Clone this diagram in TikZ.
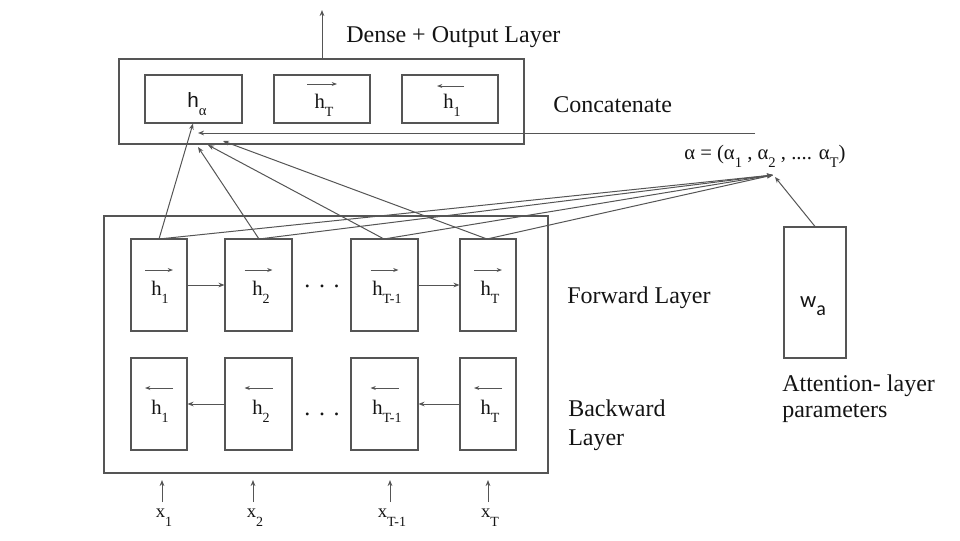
\documentclass[tikz,border=0pt]{standalone}
\usepackage{fontspec}
\setmainfont{Liberation Serif}
\newfontfamily\arialf{Liberation Sans}
\newfontfamily\calib{Carlito}
\usetikzlibrary{arrows.meta,fit}
\newcommand{\sbx}[1]{\raisebox{-6.5pt}{\fontsize{11}{12}\selectfont #1}}
\newcommand{\sbs}[1]{\raisebox{-6.5pt}{\fontsize{10.5}{12}\selectfont #1}}
\newcommand{\sba}[1]{\raisebox{-6pt}{\fontsize{11}{12}\selectfont #1}}
\newcommand{\twolines}[3]{\vtop{\baselineskip=#3\hbox{#1}\hbox{#2}}}
\definecolor{ln}{RGB}{85,85,85}
\definecolor{tx}{RGB}{20,20,20}
\begin{document}
\begin{tikzpicture}[x=0.75pt,y=-0.75pt,
  box/.style={draw=ln,line width=0.8pt,inner sep=0pt,fill=none},
  con/.style={draw=ln,line width=0.75pt,-{Stealth[length=4.5pt,width=3.5pt]}},
  harr/.style={draw=ln,line width=0.75pt,-{Stealth[length=4pt,width=3pt]}},
  hl/.style={text=tx,font=\fontsize{15.5}{18}\selectfont,inner sep=0pt,anchor=base},
  lbl/.style={text=tx,font=\fontsize{18}{22}\selectfont,inner sep=0pt,anchor=base west},
  xl/.style={text=tx,font=\fontsize{14}{16}\selectfont,inner sep=0pt,anchor=base}]
\useasboundingbox (0,0) rectangle (960,540);
% outer boxes
\node[box,fit={(119,59)(524,144)}] (cat) {};
\node[box,fit={(104,216)(548,473)}] (bi) {};
% concat inner boxes
\node[box,fit={(145,75)(242,123)}] (ha) {};
\node[box,fit={(274,75)(370,123)}] (chT) {};
\node[box,fit={(402,75)(498,123)}] (ch1) {};
% forward boxes
\node[box,fit={(131,239)(187,331)}] (f1) {};
\node[box,fit={(225,239)(292,331)}] (f2) {};
\node[box,fit={(351,239)(418,331)}] (f3) {};
\node[box,fit={(460,239)(516,331)}] (f4) {};
% backward boxes
\node[box,fit={(131,358)(187,450)}] (b1) {};
\node[box,fit={(225,358)(292,450)}] (b2) {};
\node[box,fit={(351,358)(418,450)}] (b3) {};
\node[box,fit={(460,358)(516,450)}] (b4) {};
% attention parameter box
\node[box,fit={(784,227)(846,358)}] (wa) {};
% texts in boxes
\node[hl] (hat) at (197,107) {\arialf h\sbx{\rmfamily α}};
\node[hl] (chTt) at (324,108) {h\sbs{T}};
\node[hl] (ch1t) at (452,108) {h\sbs{1}};
\draw[harr] ([xshift=-15*0.75pt]chT.north |- 0,84) -- ([xshift=15*0.75pt]chT.north |- 0,84);
\draw[harr] ([xshift=14*0.75pt]ch1.north |- 0,86) -- ([xshift=-13*0.75pt]ch1.north |- 0,86);
\node[hl] (f1t) at (160,295) {h\sbs{1}};
\node[hl] (f2t) at (261,295) {h\sbs{2}};
\node[hl] (f3t) at (387,295) {h\sbs{T-1}};
\node[hl] (f4t) at (490,295) {h\sbs{T}};
\node[hl] (b1t) at (160,414) {h\sbs{1}};
\node[hl] (b2t) at (261,414) {h\sbs{2}};
\node[hl] (b3t) at (387,414) {h\sbs{T-1}};
\node[hl] (b4t) at (490,414) {h\sbs{T}};
\foreach \n in {f1,f2,f3,f4}{
  \draw[harr] ([xshift=-14*0.75pt]\n.north |- 0,270) -- ([xshift=14*0.75pt]\n.north |- 0,270);}
\foreach \n in {b1,b2,b3,b4}{
  \draw[harr] ([xshift=14*0.75pt]\n.north |- 0,388) -- ([xshift=-14*0.75pt]\n.north |- 0,388);}
\node[text=tx,font=\calib\fontsize{17}{20}\selectfont,inner sep=0pt,anchor=base] (wat) at (813,307) {w\raisebox{-6.5pt}{\fontsize{15}{16}\selectfont a}};
% dots
\node[text=tx,font=\fontsize{18}{20}\selectfont,inner sep=0pt,anchor=base] (fd) at (322,287) {.\hspace{6.5pt}.\hspace{6.5pt}.};
\node[text=tx,font=\fontsize{18}{20}\selectfont,inner sep=0pt,anchor=base] (bd) at (322,415) {.\hspace{6.5pt}.\hspace{6.5pt}.};
% recurrent connections
\draw[con] (f1.east |- 0,285) -- (f2.west |- 0,285);
\draw[con] (f3.east |- 0,285) -- (f4.west |- 0,285);
\draw[con] (b2.west |- 0,404) -- (b1.east |- 0,404);
\draw[con] (b4.west |- 0,404) -- (b3.east |- 0,404);
% labels
\node[lbl] (dense) at (346,42) {Dense + Output Layer};
\node[lbl] (concl) at (553,112) {Concatenate};
\node[lbl] (fwdl) at (567,303) {Forward Layer};
\node[lbl] (bwdl) at (568,416) {\twolines{Backward}{Layer}{22pt}};
\node[lbl] (attl) at (782,391) {\twolines{Attention- layer}{parameters}{20pt}};
\node[text=tx,font=\fontsize{15.5}{18}\selectfont,inner sep=0pt,anchor=base west] (alph) at (684,159)
  {α = (α\sba{1} , α\sba{2} , .... α\sba{T})};
% output arrow
\coordinate (outend) at (322,10);
\draw[con] (cat.north -| 322,0) -- (outend);
% attention weights
\coordinate (ap) at (773,175);
\coordinate (wtip) at (775,177);
\coordinate (hstart) at (755,133);
\coordinate (hend) at (198,133);
\draw[con] (hstart) -- (hend);
\draw[con] (wa.north) -- (wtip);
\coordinate (f1s) at (159,239);
\coordinate (f2s) at (259,239);
\coordinate (f3s) at (384,239);
\coordinate (f4s) at (487,239);
\draw[con] (f1s) -- (ha.south -| 193,0);
\coordinate (t2) at (198,147);
\coordinate (t3) at (208,145);
\coordinate (t4) at (223,141);
\draw[con] (f2s) -- (t2);
\draw[con] (f3s) -- (t3);
\draw[con] (f4s) -- (t4);
\foreach \s in {f1s,f2s,f3s,f4s}{\draw[con] (\s) -- (ap);}
% inputs
\foreach \xx/\nm/\tt in {162/x1/1,253/x2/2,390/x3/T-1,488/x4/T}{
  \coordinate (\nm b) at (\xx,502);
  \draw[con] (\nm b) -- (\xx,480);
  \node[xl] (\nm) at (\xx+2,517) {x\raisebox{-7pt}{\fontsize{10.5}{12}\selectfont\tt}};}
\end{tikzpicture}
\end{document}
